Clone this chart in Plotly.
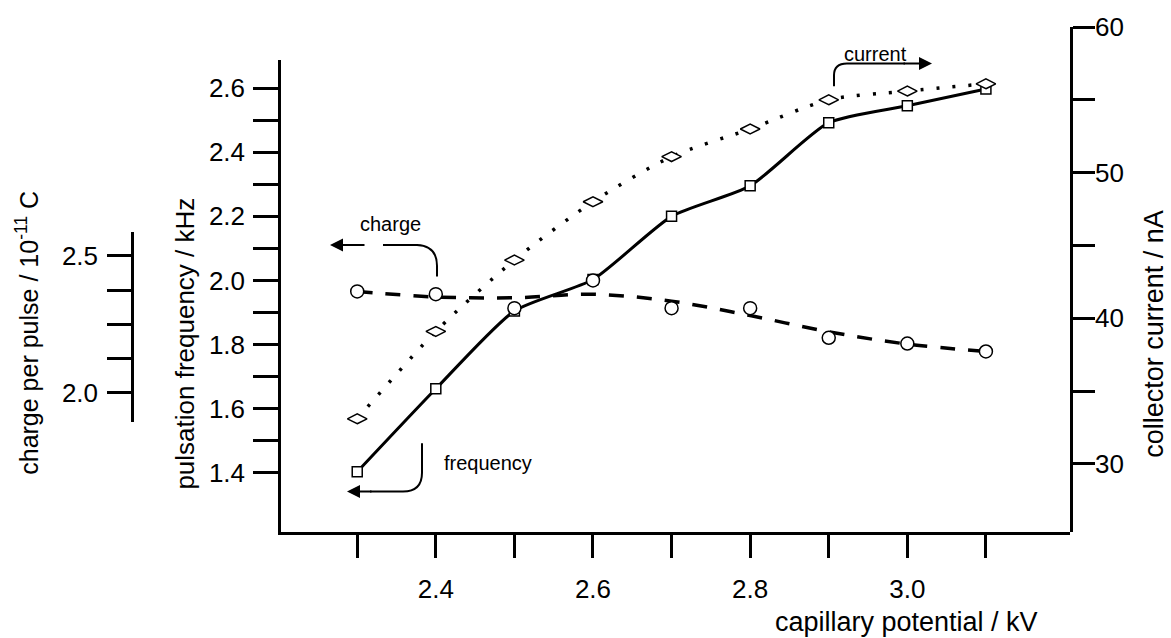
import numpy as np
import plotly.graph_objects as go

# ---------------- data ----------------
potential_kv = [2.3, 2.4, 2.5, 2.6, 2.7, 2.8, 2.9, 3.0, 3.1]
frequency_khz = [1.403, 1.662, 1.905, 2.003, 2.200, 2.295, 2.492, 2.545, 2.597]
current_na = [33.1, 39.1, 44.0, 48.0, 51.1, 53.0, 55.0, 55.6, 56.1]
charge_e11c = [2.370, 2.360, 2.309, 2.410, 2.309, 2.309, 2.201, 2.180, 2.151]

x_tickvals = [2.3, 2.4, 2.5, 2.6, 2.7, 2.8, 2.9, 3.0, 3.1]
x_ticktext = ["", "2.4", "", "2.6", "", "2.8", "", "3.0", ""]
f_tickvals = [1.4, 1.5, 1.6, 1.7, 1.8, 1.9, 2.0, 2.1, 2.2, 2.3, 2.4, 2.5, 2.6]
f_ticktext = ["1.4", "", "1.6", "", "1.8", "", "2.0", "", "2.2", "", "2.4", "", "2.6"]
c_tickvals = [30, 35, 40, 45, 50, 55, 60]
c_ticktext = ["30", "", "40", "", "50", "", "60"]
q_tickvals = [2.0, 2.125, 2.25, 2.375, 2.5]
q_ticktext = ["2.0", "", "", "", "2.5"]

# ---------------- geometry ----------------
W, H = 1171, 638
L, R, T, B = 100, 101, 20, 106
PW, PH = W - L - R, H - T - B
X0 = 281  # left edge of main frame (px)


def px(x):
    return (x - L) / PW


def py(y):
    return (H - B - y) / PH


FONT = "Liberation Sans, Arial, sans-serif"
BLACK = "#000000"

# smoothed guide line for the charge series (light 3-point smoothing of the data)
q = np.array(charge_e11c, dtype=float)
q_smooth = q.copy()
q_smooth[1:-1] = 0.25 * q[:-2] + 0.5 * q[1:-1] + 0.25 * q[2:]

fig = go.Figure()

# current (right axis, dotted)
fig.add_trace(go.Scatter(
    x=potential_kv, y=current_na, xaxis="x", yaxis="y2", mode="lines",
    line=dict(color=BLACK, width=3.5, dash="3px,13px", shape="spline", smoothing=0.8),
    showlegend=False, hoverinfo="skip"))
# charge (free axis, dashed)
fig.add_trace(go.Scatter(
    x=potential_kv, y=q_smooth.tolist(), xaxis="x", yaxis="y3", mode="lines",
    line=dict(color=BLACK, width=3.5, dash="15px,13px", shape="spline", smoothing=1.0),
    showlegend=False, hoverinfo="skip"))
# frequency (left axis, solid)
fig.add_trace(go.Scatter(
    x=potential_kv, y=frequency_khz, xaxis="x", yaxis="y", mode="lines",
    line=dict(color=BLACK, width=3, shape="spline", smoothing=0.6),
    showlegend=False, hoverinfo="skip"))

# markers
fig.add_trace(go.Scatter(
    x=potential_kv, y=current_na, xaxis="x", yaxis="y2", mode="markers",
    marker=dict(symbol="diamond-wide", size=14, color="white", line=dict(color=BLACK, width=1.5)),
    showlegend=False))
fig.add_trace(go.Scatter(
    x=potential_kv, y=charge_e11c, xaxis="x", yaxis="y3", mode="markers",
    marker=dict(symbol="circle", size=13, color="white", line=dict(color=BLACK, width=1.5)),
    showlegend=False))
fig.add_trace(go.Scatter(
    x=potential_kv, y=frequency_khz, xaxis="x", yaxis="y", mode="markers",
    marker=dict(symbol="square", size=10, color="white", line=dict(color=BLACK, width=1.5)),
    showlegend=False))

axis_common = dict(showgrid=False, zeroline=False, showline=True, linecolor=BLACK,
                   linewidth=2.5, ticks="outside", tickcolor=BLACK, tickwidth=2.5,
                   tickfont=dict(family=FONT, size=26, color=BLACK), tickmode="array")

fig.update_layout(
    width=W, height=H, autosize=False,
    margin=dict(l=L, r=R, t=T, b=B, pad=0),
    paper_bgcolor="white", plot_bgcolor="rgba(0,0,0,0)",
    showlegend=False,
    xaxis=dict(**axis_common, domain=[px(X0), 1], anchor="y", range=[2.203, 3.207],
               tickvals=x_tickvals, ticktext=x_ticktext, ticklen=23, ticklabelstandoff=9),
    yaxis=dict(**axis_common, domain=[0, py(53)], anchor="x", side="left",
               range=[1.2154, 2.689], tickvals=f_tickvals, ticktext=f_ticktext,
               ticklen=25, ticklabelstandoff=3),
    yaxis2=dict(**axis_common, domain=[0, 1], anchor="x", side="right",
                range=[25.33, 60.0], tickvals=c_tickvals, ticktext=c_ticktext,
                ticklen=22, ticklabelstandoff=-5),
    yaxis3=dict(**axis_common, domain=[py(420), py(228)], anchor="free", side="left",
                position=px(132), range=[1.8957, 2.586], tickvals=q_tickvals,
                ticktext=q_ticktext, ticklen=24, ticklabelstandoff=4),
)

# axis titles (as annotations so they sit where the original places them)
annots = [
    dict(text="pulsation frequency / kHz", x=px(185), y=py(341), textangle=-90, size=26),
    dict(text="charge per pulse / 10<sup>-11</sup> C", x=px(27), y=py(330), textangle=-90, size=25),
    dict(text="collector current / nA", x=px(1154), y=py(331), textangle=-90, size=27),
]
for a in annots:
    size = a.pop("size")
    fig.add_annotation(xref="paper", yref="paper", showarrow=False,
                       font=dict(family=FONT, size=size, color=BLACK),
                       xanchor="center", yanchor="middle", **a)
fig.add_annotation(text="capillary potential / kV", xref="paper", yref="paper",
                   x=px(773), y=py(623), xanchor="left", yanchor="middle",
                   showarrow=False, font=dict(family=FONT, size=27, color=BLACK))

# series labels
lab_font = dict(family=FONT, size=20, color=BLACK)
for txt, xx, yy in [("charge", 390, 220), ("frequency", 488, 462), ("current", 875, 47)]:
    fig.add_annotation(text=txt, xref="paper", yref="paper", x=px(xx), y=py(yy),
                       xanchor="center", yanchor="middle", showarrow=False, font=lab_font)


# curved leader lines
def P(x, y):
    return f"{px(x):.5f},{py(y):.5f}"


paths = [
    f"M {P(383,241)} L {P(417,241)} Q {P(437,242)} {P(437,262)} L {P(437,273)}",
    f"M {P(422,442)} L {P(422,472)} Q {P(422,491)} {P(403,491)} L {P(370,491)}",
    f"M {P(834,80)} L {P(834,69)} Q {P(834,57)} {P(847,57)} L {P(905,57)}",
]
for p in paths:
    fig.add_shape(type="path", path=p, xref="paper", yref="paper",
                  line=dict(color=BLACK, width=2), fillcolor="rgba(0,0,0,0)")

# arrow heads
for hx, hy, ax in [(330, 241, 36), (347, 491, 26), (932, 57, -30)]:
    fig.add_annotation(text="", xref="paper", yref="paper", x=px(hx), y=py(hy),
                       ax=ax, ay=0, showarrow=True, arrowhead=2, arrowsize=1.3,
                       arrowwidth=2, arrowcolor=BLACK)

fig.write_html("out.html")
